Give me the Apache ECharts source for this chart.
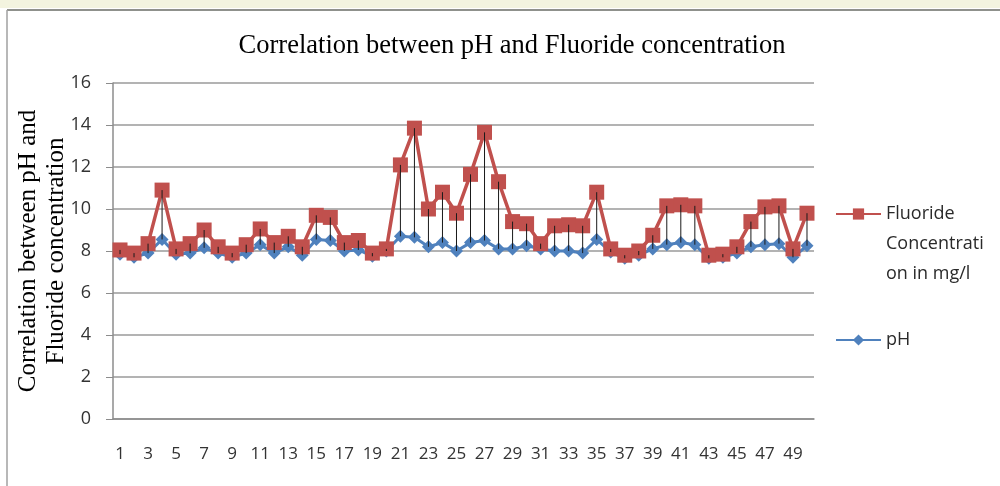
<!DOCTYPE html>
<html>
<head>
<meta charset="utf-8">
<script src="https://cdn.jsdelivr.net/npm/echarts@6/dist/echarts.min.js"></script>
<style>html,body{margin:0;padding:0;background:#fff}#c{width:1000px;height:486px}</style>
</head>
<body>
<div id="c"></div>
<script>
const categories = Array.from({length: 50}, (_, i) => String(i + 1));
const fluoride = [8.05,7.9,8.35,10.9,8.1,8.35,9.0,8.2,7.9,8.3,
  9.05,8.4,8.7,8.2,9.7,9.6,8.4,8.5,7.9,8.1,
  12.1,13.85,10.0,10.8,9.8,11.65,13.65,11.3,9.4,9.3,
  8.35,9.2,9.25,9.2,10.8,8.1,7.8,8.0,8.75,10.15,
  10.2,10.15,7.8,7.85,8.2,9.4,10.1,10.15,8.1,9.8];
const ph = [7.85,7.7,7.9,8.55,7.85,7.9,8.15,7.9,7.7,7.9,
  8.3,7.9,8.2,7.8,8.55,8.5,8.0,8.05,7.75,8.0,
  8.7,8.65,8.2,8.4,8.0,8.4,8.5,8.1,8.1,8.25,
  8.1,8.0,8.0,7.9,8.55,7.95,7.65,7.8,8.1,8.3,
  8.4,8.3,7.65,7.7,7.9,8.2,8.3,8.35,7.7,8.25];
const fName = 'Fluoride\nConcentrati\non in mg/l';
const pName = 'pH';

const chart = echarts.init(document.getElementById('c'));
chart.setOption({
  backgroundColor: '#fff',
  animation: false,
  title: {
    text: 'Correlation between pH and Fluoride concentration',
    left: 507, top: 28, textAlign: 'center',
    textStyle: {fontFamily: 'Liberation Serif', fontSize: 26.5, fontWeight: 'normal', color: '#000'}
  },
  graphic: [
    {type: 'rect', shape: {x: 0, y: 0, width: 1000, height: 8}, style: {fill: '#f3f4df'}, silent: true},
    {type: 'line', shape: {x1: 7, y1: 10, x2: 1000, y2: 10}, style: {stroke: '#8f918c', lineWidth: 2}, silent: true},
    {type: 'line', shape: {x1: 7, y1: 10, x2: 7, y2: 486}, style: {stroke: '#a0a0a0', lineWidth: 1.5}, silent: true}
  ],
  legend: [
    {
      orient: 'vertical', left: 830, top: 134,
      itemWidth: 45, itemHeight: 14, itemGap: 0,
      data: [fName],
      formatter: function (n) { return '\n\n' + n; },
      textStyle: {fontFamily: 'Open Sans', fontSize: 18, color: '#2a2a2a', lineHeight: 30}
    },
    {
      orient: 'vertical', left: 830, top: 323,
      itemWidth: 45, itemHeight: 14,
      data: [pName],
      textStyle: {fontFamily: 'Open Sans', fontSize: 18, color: '#2a2a2a', lineHeight: 24}
    }
  ],
  grid: {left: 113, right: 186, top: 83, bottom: 67, containLabel: false, outerBoundsMode: 'none'},
  xAxis: {
    type: 'category', data: categories, boundaryGap: true,
    axisLine: {lineStyle: {color: '#8c8c8c', width: 1.5}},
    axisTick: {show: false},
    axisLabel: {interval: 1, margin: 27, fontFamily: 'Open Sans', fontSize: 17, color: '#333'}
  },
  yAxis: {
    type: 'value', min: 0, max: 16, interval: 2,
    name: 'Correlation between pH and\nFluoride concentration',
    nameLocation: 'middle', nameGap: 43, nameRotate: 90, nameMoveOverlap: false,
    nameTextStyle: {fontFamily: 'Liberation Serif', fontSize: 25, color: '#000', lineHeight: 28},
    axisLine: {show: true, lineStyle: {color: '#8c8c8c', width: 1.5}},
    axisTick: {show: true, length: 7, lineStyle: {color: '#8c8c8c'}},
    axisLabel: {margin: 22, fontFamily: 'Open Sans', fontSize: 18, color: '#333'},
    splitLine: {lineStyle: {color: '#9a9a9a', width: 1.5}}
  },
  series: [
    {
      name: pName, type: 'line', data: ph, z: 2,
      symbol: 'diamond', symbolSize: 13, showAllSymbol: true,
      lineStyle: {color: '#4f81bd', width: 3},
      itemStyle: {color: '#4f81bd'}
    },
    {
      name: fName, type: 'line', data: fluoride, z: 3,
      symbol: 'rect', symbolSize: 15, showAllSymbol: true,
      lineStyle: {color: '#c0504d', width: 3.5},
      itemStyle: {color: '#c0504d'}
    },
    {
      name: 'drop', type: 'custom', z: 4, silent: true,
      data: ph.map((v, i) => [i, v, fluoride[i]]),
      encode: {x: 0, y: [1, 2]},
      renderItem: function (params, api) {
        const a = api.coord([api.value(0), api.value(1)]);
        const b = api.coord([api.value(0), api.value(2)]);
        return {type: 'line', shape: {x1: a[0], y1: a[1], x2: b[0], y2: b[1]}, style: {stroke: '#1a1a1a', lineWidth: 1}};
      }
    }
  ]
});
</script>
</body>
</html>
